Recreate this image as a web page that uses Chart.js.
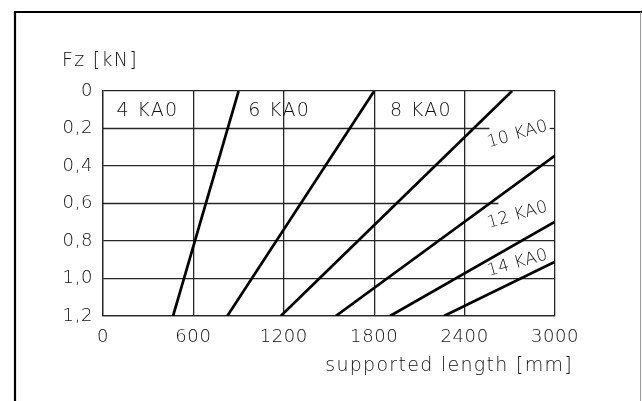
<!DOCTYPE html>
<html>
<head>
<meta charset="utf-8">
<script src="https://cdn.jsdelivr.net/npm/chart.js@4.4.1/dist/chart.umd.min.js"></script>
<style>
  html, body { margin: 0; padding: 0; background: #fff; }
  #wrap { width: 642px; height: 401px; }
</style>
</head>
<body>
<div id="wrap"><canvas id="chart" width="642" height="401"></canvas></div>
<script>
// curves: straight lines from (startLength, startForce) to (endLength, endForce)
const seriesNames = ['4 KA0', '6 KA0', '8 KA0', '10 KA0', '12 KA0', '14 KA0'];
const startLength = [465, 825, 1180, 1545, 1905, 2263];
const startForce = [1.2, 1.2, 1.2, 1.2, 1.2, 1.2];
const endLength = [900, 1800, 2715, 3000, 3000, 3000];
const endForce = [0, 0, 0, 0.345, 0.697, 0.91];

const xTicks = [0, 600, 1200, 1800, 2400, 3000];
const yTicks = [0, 0.2, 0.4, 0.6, 0.8, 1.0, 1.2];

// horizontal grid lines that are cut to leave room for a label
const cutGridForce = [0.2, 0.2, 0.6];
const cutGridFrom = [0, 2965, 0];
const cutGridTo = [2565, 3000, 2625];

// where each curve name sits (in chart units)
const labelLength = [295, 1170, 2110, 2752, 2752, 2752];
const labelForce = [0.108, 0.108, 0.108, 0.232, 0.662, 0.918];
const labelAngle = [0, 0, 0, -16, -16, -16];

const FONT = '"DejaVu Sans", sans-serif';
const INK = '#111';
const GRID = '#262626';

const datasets = [];
for (let i = 0; i < cutGridForce.length; i++) {
    datasets.push({
        data: [{ x: cutGridFrom[i], y: cutGridForce[i] }, { x: cutGridTo[i], y: cutGridForce[i] }],
        borderColor: GRID,
        borderWidth: 1.3,
        pointRadius: 0,
        showLine: true,
        order: 2
    });
}
for (let i = 0; i < seriesNames.length; i++) {
    datasets.push({
        label: seriesNames[i],
        data: [{ x: startLength[i], y: startForce[i] }, { x: endLength[i], y: endForce[i] }],
        borderColor: '#000',
        borderWidth: 2.7,
        pointRadius: 0,
        showLine: true,
        order: 1
    });
}

const isCut = v => cutGridForce.some(c => Math.abs(c - v) < 1e-6);

const extras = {
    id: 'extras',
    beforeInit(chart) {
        chart.ctx.letterSpacing = '0.6px';
    },
    beforeDraw(chart) {
        chart.ctx.letterSpacing = '0.6px';
    },
    afterDatasetsDraw(chart) {
        const ctx = chart.ctx;
        const xs = chart.scales.x, ys = chart.scales.y;
        ctx.save();
        ctx.fillStyle = INK;
        ctx.textAlign = 'center';
        ctx.textBaseline = 'middle';
        for (let i = 0; i < seriesNames.length; i++) {
            const tilted = labelAngle[i] !== 0;
            ctx.font = (tilted ? '200 17px ' : '200 19px ') + FONT;
            ctx.letterSpacing = tilted ? '0.3px' : '1.3px';
            ctx.save();
            ctx.translate(xs.getPixelForValue(labelLength[i]), ys.getPixelForValue(labelForce[i]));
            ctx.rotate(labelAngle[i] * Math.PI / 180);
            ctx.fillText(seriesNames[i], 0, 0);
            ctx.restore();
        }
        ctx.restore();
    },
    afterDraw(chart) {
        const ctx = chart.ctx;
        const a = chart.chartArea;
        ctx.save();
        // outer frame
        ctx.strokeStyle = '#000';
        ctx.lineWidth = 2.2;
        ctx.beginPath();
        ctx.moveTo(15, 401);
        ctx.lineTo(15, 12);
        ctx.lineTo(642, 12);
        ctx.stroke();
        ctx.strokeStyle = '#999';
        ctx.lineWidth = 1;
        ctx.beginPath();
        ctx.moveTo(640.5, 12);
        ctx.lineTo(640.5, 401);
        ctx.stroke();
        // axis titles
        ctx.fillStyle = INK;
        ctx.font = '200 19px ' + FONT;
        ctx.letterSpacing = '1.3px';
        ctx.textBaseline = 'middle';
        ctx.textAlign = 'left';
        ctx.fillText('Fz [kN]', a.left - 41, a.top - 30);
        ctx.textAlign = 'right';
        ctx.fillText('supported length [mm]', a.right + 18, a.bottom + 50);
        ctx.restore();
    }
};

new Chart(document.getElementById('chart').getContext('2d'), {
    type: 'scatter',
    data: { datasets: datasets },
    options: {
        responsive: false,
        animation: false,
        layout: { padding: { left: 0, top: 91, right: 87, bottom: 45 } },
        plugins: { legend: { display: false }, tooltip: { enabled: false } },
        scales: {
            x: {
                type: 'linear',
                min: 0,
                max: 3000,
                afterBuildTicks: s => { s.ticks = xTicks.map(v => ({ value: v })); },
                afterFit: s => { s.height = 40; },
                grid: { color: GRID, lineWidth: 1.3, drawTicks: false },
                border: { color: GRID, width: 1.3 },
                ticks: {
                    autoSkip: false,
                    maxRotation: 0,
                    padding: 11,
                    color: INK,
                    font: { family: FONT, size: 18, weight: 200 },
                    callback: v => String(v)
                }
            },
            y: {
                type: 'linear',
                reverse: true,
                min: 0,
                max: 1.2,
                afterBuildTicks: s => { s.ticks = yTicks.map(v => ({ value: v })); },
                afterFit: s => { s.width = 103; },
                grid: {
                    color: c => (c.tick && isCut(c.tick.value)) ? 'rgba(0,0,0,0)' : GRID,
                    lineWidth: 1.3,
                    drawTicks: false
                },
                border: { color: GRID, width: 1.3 },
                ticks: {
                    autoSkip: false,
                    padding: 10,
                    color: INK,
                    font: { family: FONT, size: 18, weight: 200 },
                    callback: v => v === 0 ? '0' : v.toFixed(1).replace('.', ',')
                }
            }
        }
    },
    plugins: [extras]
});
</script>
</body>
</html>
